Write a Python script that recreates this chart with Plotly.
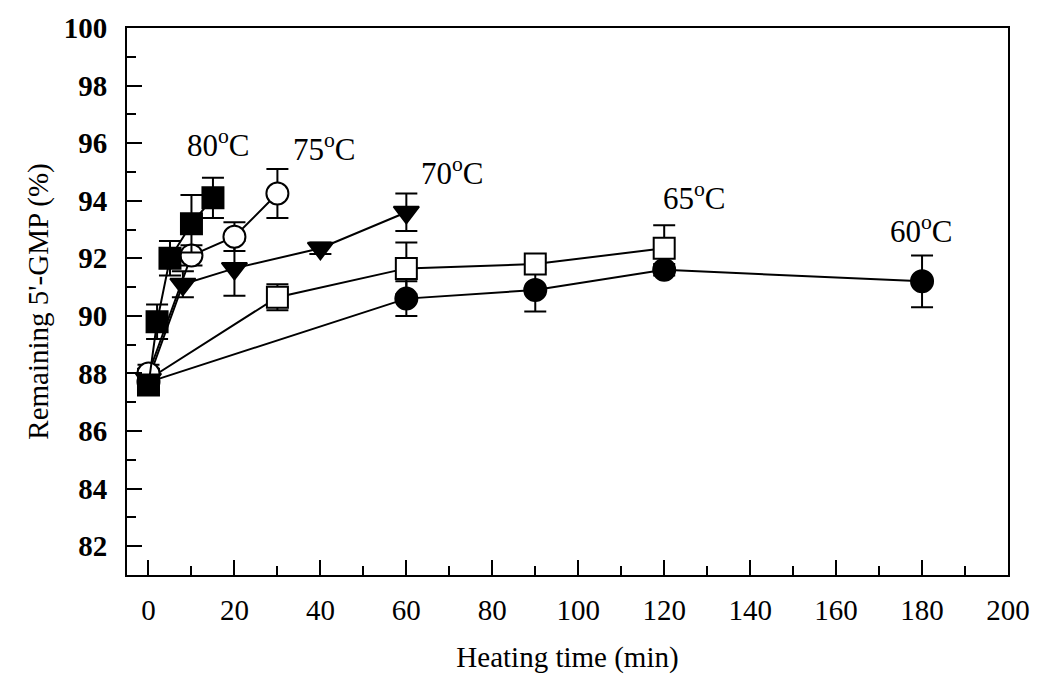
import plotly.graph_objects as go

# ---- data ----
t80 = [0, 2, 5, 10, 15]
y80 = [87.6, 89.8, 92.0, 93.2, 94.1]
e80 = [0.25, 0.6, 0.6, 1.0, 0.7]

t75 = [0, 10, 20, 30]
y75 = [88.0, 92.1, 92.75, 94.25]
e75 = [0.3, 0.35, 0.5, 0.85]

t70 = [0, 8, 20, 40, 60]
y70 = [87.8, 91.1, 91.65, 92.35, 93.6]
e70 = [0.3, 0.45, 0.95, 0.2, 0.65]

t65 = [0, 30, 60, 90, 120]
y65 = [87.8, 90.65, 91.65, 91.8, 92.35]
e65 = [0.3, 0.45, 0.9, 0.2, 0.8]

t60 = [0, 60, 90, 120, 180]
y60 = [87.7, 90.6, 90.9, 91.6, 91.2]
e60 = [0.3, 0.6, 0.75, 0.2, 0.9]

labels = ["80<sup>o</sup>C", "75<sup>o</sup>C", "70<sup>o</sup>C", "65<sup>o</sup>C", "60<sup>o</sup>C"]
label_x = [16.4, 41, 70.7, 127, 179.8]
label_y = [96.0, 95.85, 95.0, 94.15, 93.0]

FONT = "Liberation Serif, Times New Roman, serif"

fig = go.Figure()

def add(x, y, e, symbol, fill):
    fig.add_trace(go.Scatter(
        x=x, y=y, mode="lines+markers",
        line=dict(color="black", width=2),
        marker=dict(symbol=symbol, size=21 if "square" in symbol else 22,
                    color="black" if fill else "white",
                    line=dict(color="black", width=2)),
        error_y=dict(type="data", array=e, visible=True, color="black",
                     thickness=2, width=11),
        showlegend=False,
    ))

add(t60, y60, e60, "circle", True)
add(t65, y65, e65, "square", False)
add(t70, y70, e70, "triangle-down", True)
add(t75, y75, e75, "circle", False)
add(t80, y80, e80, "square", True)

for txt, xx, yy in zip(labels, label_x, label_y):
    fig.add_annotation(x=xx, y=yy, text=txt, showarrow=False,
                       font=dict(family=FONT, size=31, color="black"))

fig.update_layout(
    width=1042, height=682,
    margin=dict(l=127, r=32, t=25, b=107),
    paper_bgcolor="white", plot_bgcolor="white",
    font=dict(family=FONT, color="black"),
)
fig.update_xaxes(
    range=[-5, 200], tickmode="array", tickvals=list(range(0, 201, 20)),
    ticks="inside", ticklen=15, tickwidth=1.5, tickcolor="black",
    minor=dict(dtick=10, tick0=0, ticks="inside", ticklen=9, tickcolor="black", tickwidth=1.5),
    showline=True, linecolor="black", linewidth=2, mirror=True,
    showgrid=False, zeroline=False,
    tickfont=dict(family=FONT, size=29, color="black"),
    ticklabelstandoff=8,
    title=dict(text="Heating time (min)", font=dict(family=FONT, size=29, color="black"), standoff=22),
)
fig.update_yaxes(
    range=[81, 100], tickmode="array", tickvals=list(range(82, 101, 2)),
    ticks="inside", ticklen=15, tickwidth=1.5, tickcolor="black",
    minor=dict(dtick=1, tick0=81, ticks="inside", ticklen=9, tickcolor="black", tickwidth=1.5),
    showline=True, linecolor="black", linewidth=2, mirror=True,
    showgrid=False, zeroline=False,
    tickfont=dict(family=FONT, size=29, color="black", weight="bold"),
    ticklabelstandoff=12,
    title=dict(text="Remaining 5'-GMP (%)", font=dict(family=FONT, size=29, color="black"), standoff=7),
)

fig.write_html("out.html")
